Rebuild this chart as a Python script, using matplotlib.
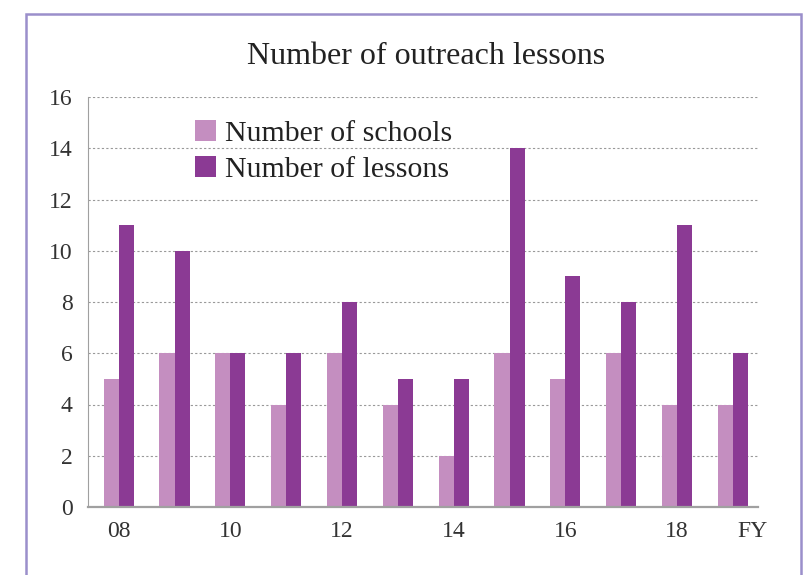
import matplotlib
matplotlib.use("Agg")
import matplotlib.pyplot as plt
import numpy as np
from matplotlib.patches import Rectangle
import matplotlib.transforms as mtransforms

# data
years = ["08", "09", "10", "11", "12", "13", "14", "15", "16", "17", "18", "19"]
tick_labels = ["08", "", "10", "", "12", "", "14", "", "16", "", "18", "FY"]
schools = [5, 6, 6, 4, 6, 4, 2, 6, 5, 6, 4, 4]
lessons = [11, 10, 6, 6, 8, 5, 5, 14, 9, 8, 11, 6]

plt.rcParams['font.family'] = ['Liberation Serif', 'DejaVu Serif']

fig = plt.figure(figsize=(8.05, 5.75), dpi=100)
ax = fig.add_axes([88/805, 1 - 507/575, (758-88)/805, (507-97)/575])

x = np.arange(len(years)) + 0.55
w = 0.27
ax.bar(x - w/2, schools, w, color='#C48EC0', label='Number of schools')
ax.bar(x + w/2, lessons, w, color='#8B3A94', label='Number of lessons')

ax.set_xlim(0, 12)
ax.set_ylim(0, 16)
ax.set_yticks(range(0, 17, 2))
ax.yaxis.grid(True, color='#999999', linestyle=(0, (2, 2)), linewidth=0.8)
ax.set_axisbelow(True)
ax.set_xticks(x)
ax.set_xticklabels(tick_labels)
ax.tick_params(length=0, labelsize=17, labelcolor='#333333', pad=11)
ax.tick_params(axis='x', pad=10)
# FY label sits a bit right of its group
lab = ax.get_xticklabels()[-1]
lab.set_transform(lab.get_transform() + mtransforms.ScaledTranslation(0.2, 0, fig.dpi_scale_trans))

for s in ['top', 'right']:
    ax.spines[s].set_visible(False)
ax.spines['left'].set_color('#A0A0A0')
ax.spines['bottom'].set_color('#A0A0A0')
ax.spines['bottom'].set_linewidth(1.6)

fig.text(426/805, 1 - 57/575, 'Number of outreach lessons', ha='center', va='center',
         fontsize=23, color='#222222')

ax.legend(loc='upper left', bbox_to_anchor=(0.16, 0.943), frameon=False, fontsize=21.5,
          handlelength=0.7, handleheight=0.7, handletextpad=0.3, labelspacing=0.3,
          borderpad=0, borderaxespad=0, labelcolor='#222222')

fig.patches.append(Rectangle((26/805, -0.1), (801-26)/805, 1.1 - 14/575,
                             transform=fig.transFigure, fill=False,
                             edgecolor='#9B8FCB', linewidth=1.8))

fig.savefig('out.png', dpi=100)
